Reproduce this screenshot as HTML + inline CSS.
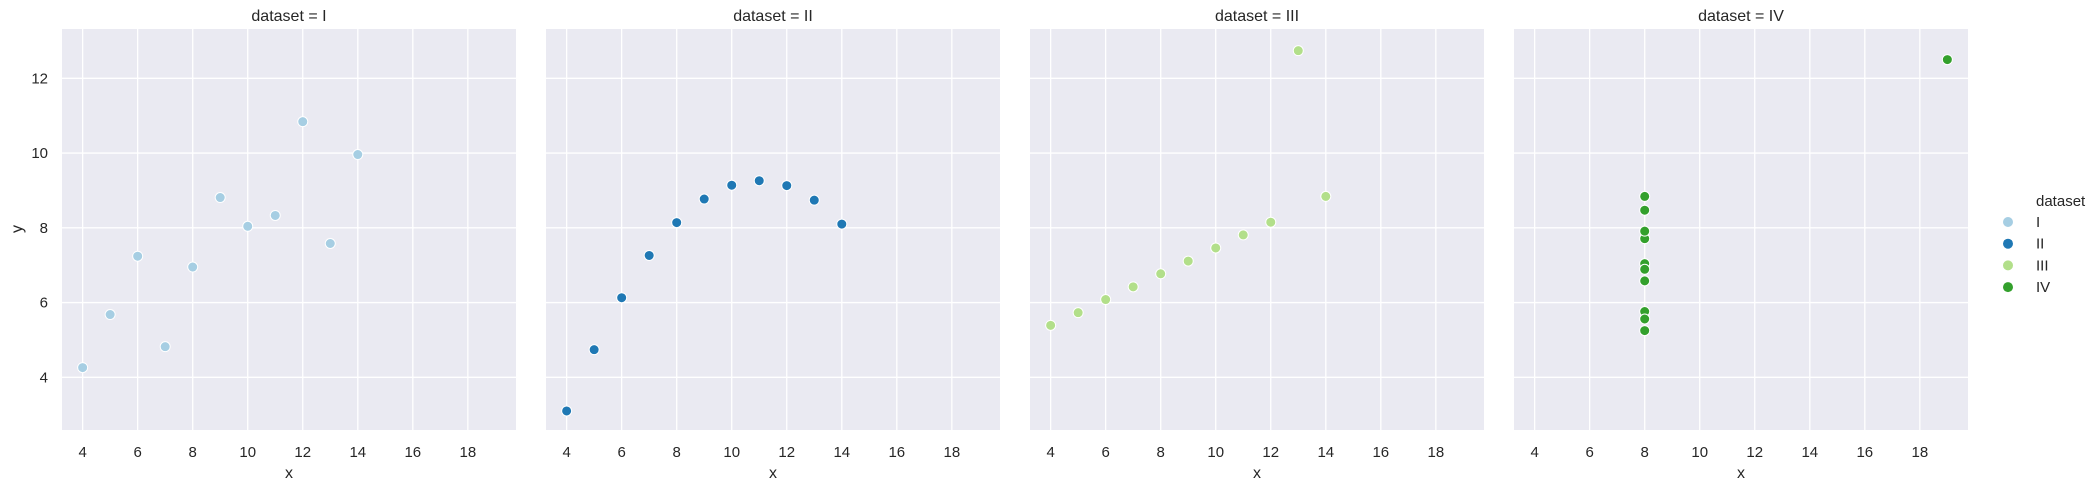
<!DOCTYPE html>
<html><head><meta charset="utf-8"><style>
body{margin:0;background:#fff;}
text{font-family:"Liberation Sans","DejaVu Sans",sans-serif;fill:#262626;}
</style></head><body>
<svg id="chart" width="2098" height="489" xmlns="http://www.w3.org/2000/svg"></svg>
<script>
const datasets = ["I","II","III","IV"];
const colors = ["#a6cee3","#1f78b4","#b2df8a","#33a02c"];
const xI = [10,8,13,9,11,14,6,4,12,7,5];
const yI = [8.04,6.95,7.58,8.81,8.33,9.96,7.24,4.26,10.84,4.82,5.68];
const xII = [10,8,13,9,11,14,6,4,12,7,5];
const yII = [9.14,8.14,8.74,8.77,9.26,8.10,6.13,3.10,9.13,7.26,4.74];
const xIII = [10,8,13,9,11,14,6,4,12,7,5];
const yIII = [7.46,6.77,12.74,7.11,7.81,8.84,6.08,5.39,8.15,6.42,5.73];
const xIV = [8,8,8,8,8,8,8,19,8,8,8];
const yIV = [6.58,5.76,7.71,8.84,8.47,7.04,5.25,12.50,5.56,7.91,6.89];
const xTicks = [4,6,8,10,12,14,16,18];
const yTicks = [4,6,8,10,12];
const xs=[xI,xII,xIII,xIV], ys=[yI,yII,yIII,yIV];

const NS="http://www.w3.org/2000/svg";
const svg=document.getElementById('chart');
function mk(t,a,p){const e=document.createElementNS(NS,t);for(const k in a)e.setAttribute(k,a[k]);(p||svg).appendChild(e);return e;}
const panelW=454, plotTop=29, plotBottom=430, step=484, left0=62;
const xMin=3.25, xMax=19.75;
const yScale=v=>377.3-(v-4)*37.375;
datasets.forEach((d,i)=>{
  const L=left0+i*step;
  const xScale=v=>L+(v-xMin)/(xMax-xMin)*panelW;
  const g=mk('g',{});
  
  
  const bg=mk('rect',{x:L,y:plotTop,width:panelW,height:plotBottom-plotTop,fill:'#eaeaf2'},g);
  
  
  xTicks.forEach(t=>{
    const x=xScale(t);
    const ln=mk('line',{x1:x,x2:x,y1:plotTop,y2:plotBottom,stroke:'#fff','stroke-width':1.3},g);
    
    
    const tx=mk('text',{x:x,y:457,'text-anchor':'middle','font-size':15},g);
    tx.textContent=t;
    
    
  });
  yTicks.forEach(t=>{
    const y=yScale(t);
    const ln=mk('line',{x1:L,x2:L+panelW,y1:y,y2:y,stroke:'#fff','stroke-width':1.3},g);
    
    
    if(i===0){
      const tx=mk('text',{x:48,y:y+5,'text-anchor':'end','font-size':15},g);
      tx.textContent=t;
      
      
    }
  });
  const ti=mk('text',{x:L+panelW/2,y:21,'text-anchor':'middle','font-size':16},g);
  ti.textContent='dataset = '+d;
  
  
  const xl=mk('text',{x:L+panelW/2,y:478,'text-anchor':'middle','font-size':16},g);
  xl.textContent='x';
  
  
  xs[i].forEach((xv,j)=>{
    const c=mk('circle',{cx:xScale(xv),cy:yScale(ys[i][j]),r:5,fill:colors[i],stroke:'#fff','stroke-width':1},g);
    
    
  });
});
const yl=mk('text',{x:0,y:0,'text-anchor':'middle','font-size':16,transform:'translate(22,229) rotate(-90)'});
yl.textContent='y';


const lg=mk('g',{});


const lt=mk('text',{x:2036,y:206,'font-size':15},lg);
lt.textContent='dataset';


datasets.forEach((d,i)=>{
  const y=222+i*21.7;
  const c=mk('circle',{cx:2008,cy:y,r:5,fill:colors[i]},lg);
  
  
  const t=mk('text',{x:2036,y:y+5,'font-size':15},lg);
  t.textContent=d;
  
  
});
</script>
</body></html>
